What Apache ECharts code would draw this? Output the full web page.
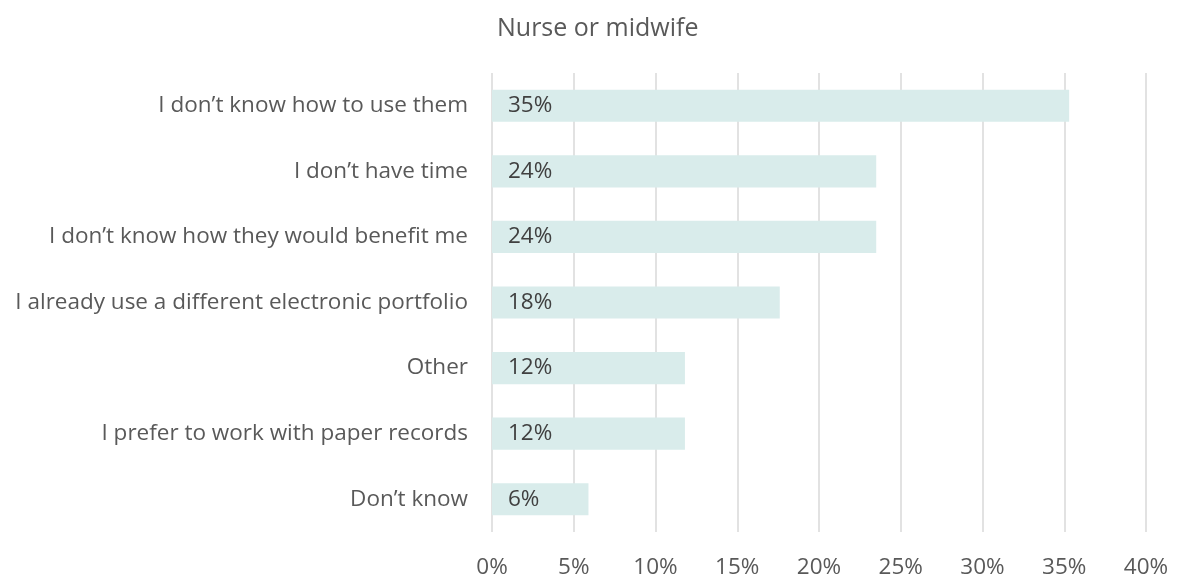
<!DOCTYPE html>
<html>
<head>
<meta charset="utf-8">
<script src="https://cdn.jsdelivr.net/npm/echarts@6/dist/echarts.min.js"></script>
<style>
  html, body { margin: 0; padding: 0; background: #ffffff; }
  #chart { width: 1178px; height: 581px; }
</style>
</head>
<body>
<div id="chart"></div>
<script>
// Reasons given by nurses and midwives (share of respondents, %)
const chartTitle = 'Nurse or midwife';
const categories = [
  'I don\u2019t know how to use them',
  'I don\u2019t have time',
  'I don\u2019t know how they would benefit me',
  'I already use a different electronic portfolio',
  'Other',
  'I prefer to work with paper records',
  'Don\u2019t know'
];
const shares = [35.3, 23.5, 23.5, 17.6, 11.8, 11.8, 5.9];
const axisTicks = [0, 5, 10, 15, 20, 25, 30, 35, 40];

const fontFamily = '"Open Sans", "Noto Sans", sans-serif';
const textSize = 22.5;

const chart = echarts.init(document.getElementById('chart'), null, { renderer: 'canvas' });

chart.setOption({
  backgroundColor: '#ffffff',
  animation: false,
  title: {
    text: chartTitle,
    left: 492,
    top: 11,
    textStyle: { color: '#595959', fontSize: 25, fontWeight: 'normal', fontFamily: fontFamily }
  },
  grid: { left: 492, right: 32, top: 73, bottom: 49, containLabel: false },
  xAxis: {
    type: 'value',
    min: axisTicks[0],
    max: axisTicks[axisTicks.length - 1],
    interval: axisTicks[1] - axisTicks[0],
    axisLine: { show: false },
    axisTick: { show: false },
    splitLine: { show: true, lineStyle: { color: '#d9d9d9', width: 1.5 } },
    axisLabel: {
      color: '#595959', fontSize: textSize, fontFamily: fontFamily, margin: 24,
      formatter: v => v + '%'
    }
  },
  yAxis: {
    type: 'category',
    inverse: true,
    data: categories,
    axisLine: { show: false },
    axisTick: { show: false },
    axisLabel: { color: '#595959', fontSize: textSize, fontFamily: fontFamily, margin: 24 }
  },
  series: [{
    type: 'bar',
    data: shares,
    barWidth: '49%',
    itemStyle: { color: '#d9eceb' },
    label: {
      show: true,
      position: 'insideLeft',
      distance: 16,
      color: '#404040',
      fontSize: textSize,
      fontFamily: fontFamily,
      formatter: p => Math.round(p.value) + '%'
    }
  }]
});
</script>
</body>
</html>
